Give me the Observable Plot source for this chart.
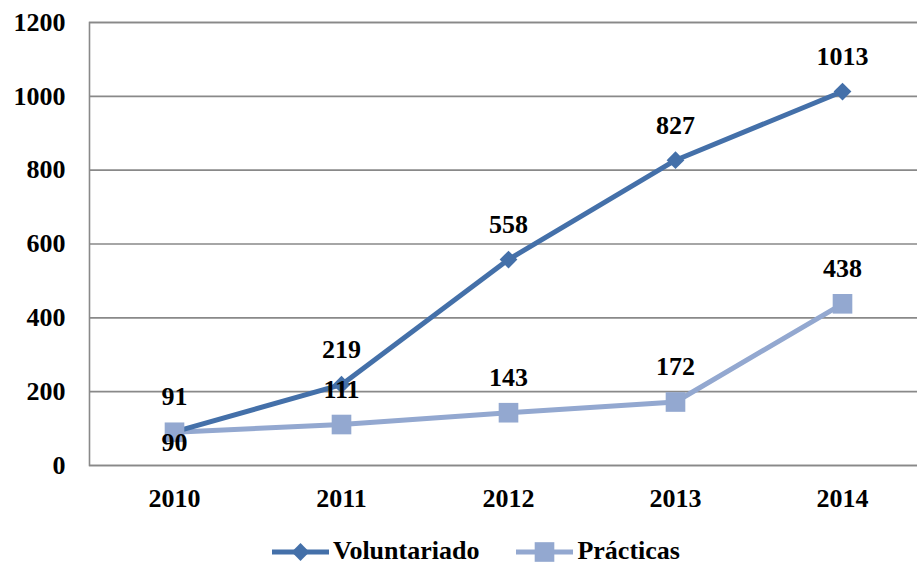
<!DOCTYPE html>
<html>
<head>
<meta charset="utf-8">
<script src="https://cdn.jsdelivr.net/npm/d3@7"></script>
<script src="https://cdn.jsdelivr.net/npm/@observablehq/plot@0.6"></script>
<style>
  html, body { margin: 0; padding: 0; background: #fff; }
  #wrap { position: relative; width: 917px; height: 565px; overflow: hidden; font-family: "Liberation Serif", "DejaVu Serif", serif; }
  #legend { position: absolute; left: 272px; top: 539px; height: 24px; display: flex; align-items: center; font-weight: bold; font-size: 26px; line-height: 24px; color: #000; }
  #legend .item { display: flex; align-items: center; height: 24px; margin-right: 37px; }
  #legend svg { margin-right: 4px; display: block; }
</style>
</head>
<body>
<div id="wrap"><div id="chart"></div><div id="legend"></div></div>
<script>
const years = ["2010", "2011", "2012", "2013", "2014"];
const voluntariado = [91, 219, 558, 827, 1013];
const practicas = [90, 111, 143, 172, 438];
const seriesNames = ["Voluntariado", "Prácticas"];
const seriesColors = ["#4470A9", "#93A8D0"];
const seriesSymbols = [d3.symbolDiamond2, d3.symbolSquare2];
const yTicks = [0, 200, 400, 600, 800, 1000, 1200];

const rows = [];
years.forEach((y, i) => {
  rows.push({year: y, series: seriesNames[0], value: voluntariado[i], other: practicas[i]});
  rows.push({year: y, series: seriesNames[1], value: practicas[i], other: voluntariado[i]});
});
const isBelow = d => d.series === seriesNames[1] && Math.abs(d.value - d.other) < 20;
const volRows = rows.filter(d => d.series === seriesNames[0]);
const praRows = rows.filter(d => d.series === seriesNames[1]);

const FONT = "Liberation Serif, DejaVu Serif, serif";
const R = [8, 12.5];

const chart = Plot.plot({
  width: 917,
  height: 520,
  marginLeft: 89,
  marginRight: -3,
  marginTop: 22,
  marginBottom: 55,
  style: {fontFamily: FONT, fontWeight: "bold", fontSize: "26px", color: "#000", background: "#fff"},
  x: {type: "point", domain: years, range: [173, 843], padding: 0, label: null},
  y: {domain: [0, 1200], label: null},
  marks: [
    Plot.gridY(yTicks, {stroke: "#898989", strokeOpacity: 1, strokeWidth: 1.6}),
    Plot.frame({stroke: "#898989", strokeWidth: 1.6}),
    Plot.axisY(yTicks, {tickSize: 0, tickPadding: 24, tickFormat: d => String(d), label: null, fontSize: 26, fontWeight: "bold", fontFamily: FONT}),
    Plot.axisX({tickSize: 0, tickPadding: 23, label: null, fontSize: 26, fontWeight: "bold", fontFamily: FONT}),
    Plot.line(praRows, {x: "year", y: "value", stroke: seriesColors[1], strokeWidth: 5}),
    Plot.line(volRows, {x: "year", y: "value", stroke: seriesColors[0], strokeWidth: 5}),
    Plot.dot(volRows, {x: "year", y: "value", symbol: seriesSymbols[0], r: R[0], fill: seriesColors[0], stroke: "none"}),
    Plot.dot(praRows, {x: "year", y: "value", symbol: seriesSymbols[1], r: R[1], fill: seriesColors[1], stroke: "none"}),
    Plot.text(rows.filter(d => !isBelow(d)), {x: "year", y: "value", text: d => String(d.value), dy: -35, fontSize: 26, fontWeight: "bold", fontFamily: FONT, fill: "#000"}),
    Plot.text(rows.filter(isBelow), {x: "year", y: "value", text: d => String(d.value), dy: 10, fontSize: 26, fontWeight: "bold", fontFamily: FONT, fill: "#000"})
  ]
});
document.getElementById("chart").appendChild(chart);

// Legend
const legend = d3.select("#legend");
seriesNames.forEach((name, i) => {
  const item = legend.append("div").attr("class", "item");
  const s = item.append("svg").attr("width", 57).attr("height", 24);
  s.append("line").attr("x1", 0).attr("x2", 57).attr("y1", 13).attr("y2", 13)
    .attr("stroke", seriesColors[i]).attr("stroke-width", 5).attr("stroke-linecap", "round");
  s.append("path").attr("d", d3.symbol(seriesSymbols[i], Math.PI * R[i] * R[i])()).attr("transform", "translate(28.5,13)").attr("fill", seriesColors[i]);
  item.append("span").text(name);
});
</script>
</body>
</html>
